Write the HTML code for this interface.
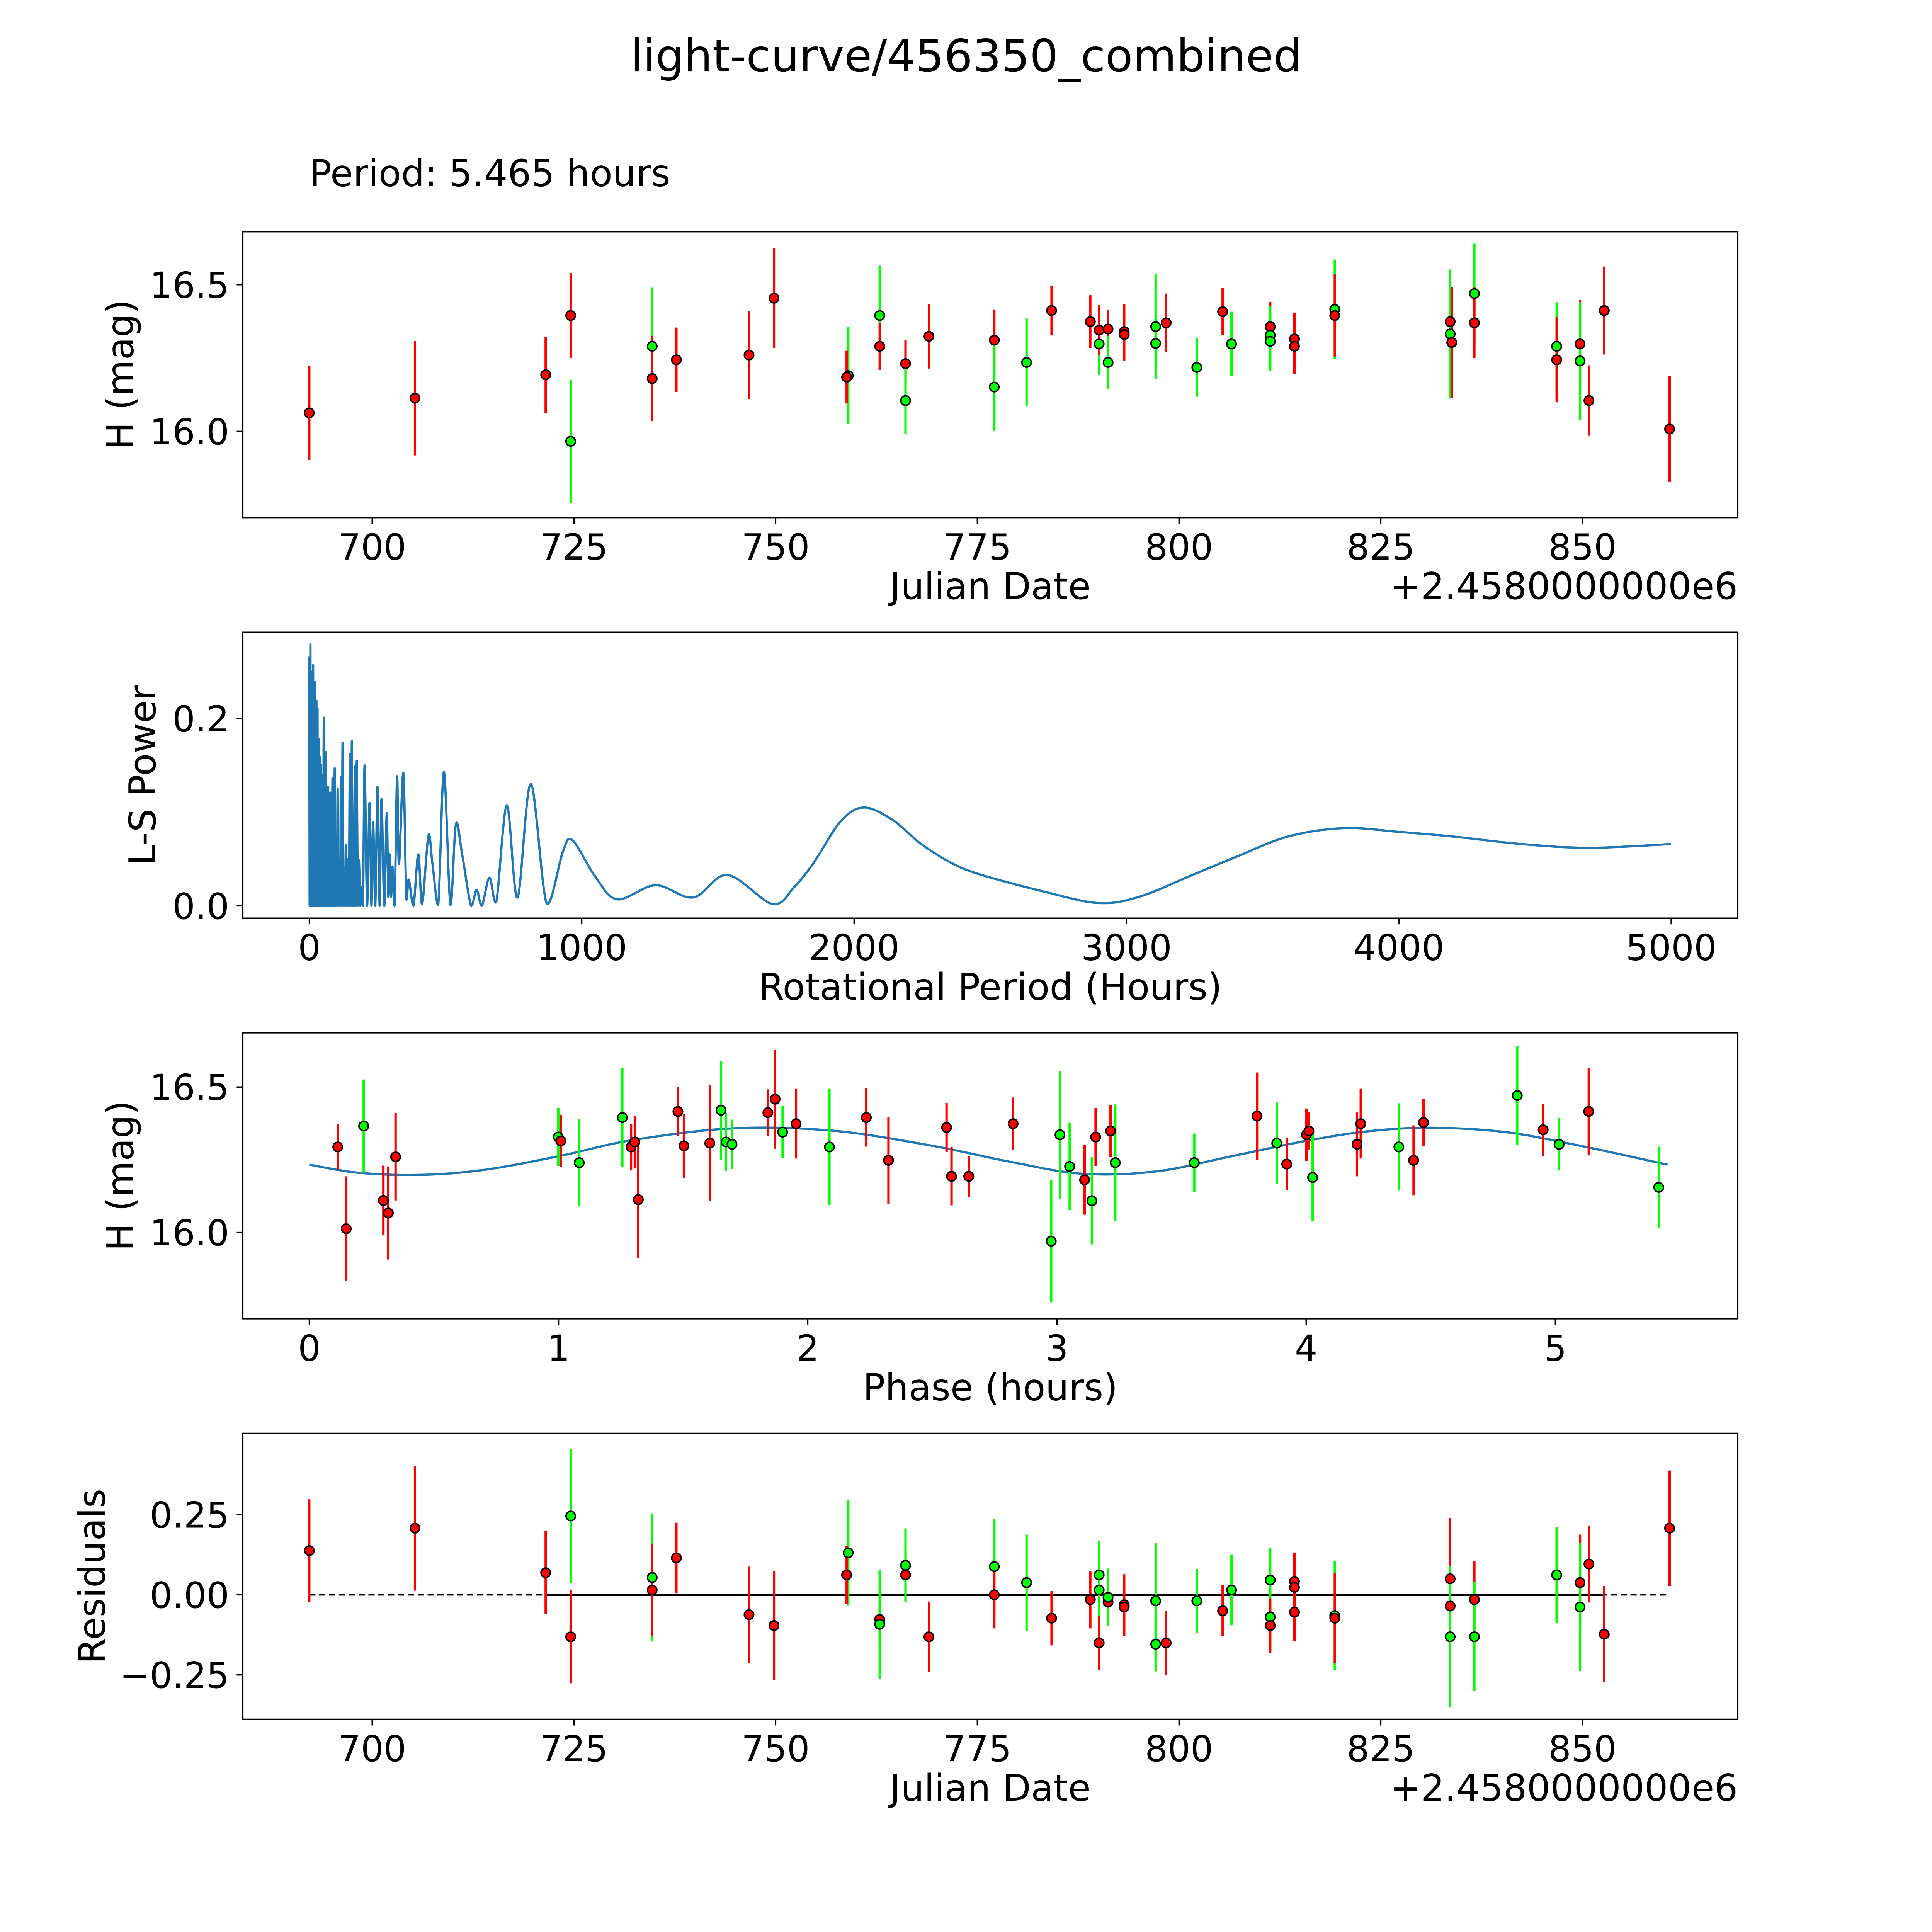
<!DOCTYPE html>
<html><head><meta charset="utf-8"><title>light-curve/456350_combined</title>
<style>html,body{margin:0;padding:0;background:#fff;overflow:hidden}svg{display:block}text{font-family:"DejaVu Sans","Liberation Sans",sans-serif;fill:#000}</style>
</head><body>
<svg id="fig" xmlns="http://www.w3.org/2000/svg" width="5400" height="5400" viewBox="0 0 1693 1693">
<rect x="0" y="0" width="1693" height="1693" fill="#fff"/>
<text x="784" y="58" font-size="36.4" text-anchor="middle">light-curve/456350_combined</text>
<text x="251" y="151" font-size="30">Period: 5.465 hours</text>
</svg>
<script>
// ---- Panel 1: light curve vs Julian Date ----
const lcDate=[692.2,705.3,721.5,724.6,724.6,734.7,734.7,737.7,746.7,749.8,759.0,758.8,762.9,762.9,766.1,766.1,769.0,777.1,777.1,781.1,784.2,789.0,790.1,790.1,791.2,791.2,793.2,793.2,797.1,797.1,798.4,802.2,805.4,806.5,811.3,811.3,811.3,814.3,814.3,819.3,819.3,833.6,833.6,833.8,836.6,836.6,846.8,846.8,849.7,849.7,850.8,852.7,860.8];
const lcMag=[16.063,16.113,16.193,16.395,15.966,16.29,16.18,16.244,16.26,16.454,16.19,16.185,16.395,16.29,16.231,16.105,16.324,16.311,16.151,16.235,16.412,16.374,16.298,16.345,16.349,16.235,16.34,16.33,16.357,16.30,16.37,16.218,16.408,16.298,16.357,16.328,16.307,16.315,16.29,16.416,16.395,16.374,16.332,16.303,16.47,16.37,16.29,16.244,16.298,16.24,16.105,16.412,16.008];
const lcErr=[.16,.195,.13,.145,.21,.2,.145,.11,.15,.17,.165,.09,.17,.08,.08,.115,.11,.105,.15,.15,.085,.09,.105,.085,.065,.09,.095,.09,.18,.085,.1,.1,.08,.11,.085,.1,.1,.09,.095,.17,.14,.12,.22,.19,.17,.12,.15,.145,.15,.2,.12,.15,.18];
const lcBand=["r","r","r","r","g","g","r","r","r","r","g","r","g","r","r","g","r","r","g","g","r","r","g","r","r","g","r","r","g","g","r","g","r","g","r","g","g","r","r","g","r","r","g","r","g","r","g","r","r","g","r","r","r"];
const jdTicks=[700,725,750,775,800,825,850];
const magTicks=[16.0,16.5];
const magTickLabels=["16.0","16.5"];

// ---- Panel 2: periodogram ----
const lsPeriod=[0,1,2,3,4,5,6,7,8,9,10,11,12,13,14,15,16,17,18,19,20,21,22,23,24,25,26,27,28,29,30,31,32,33,34,35,36,37,38,39,40,41,42,43,44,45,46,47,48,49,50,51,53,55,57,59,61,63,65,67,69,71,73,75,77,79,81,83,85,87,89,91,93,95,98,101,104,107,110,113,116,119,122,125,128,131,134,138,142,145,149,152,156,159,162,164,167,170,174,178,182,187,192,197,203,212,221,228,234,242,250,258,265,275,284,290,295,300,305,313,322,329,345,356,365,382,400,414,437,452,473,494,518,538,561,594,614,633,661,686,725,764,813,872,931,966,1048,1130,1271,1409,1535,1700,1780,1854,1950,2035,2140,2242,2350,2457,2700,2899,3050,3234,3400,3593,3800,4000,4200,4450,4700,5000];
const lsPower=[.266,0,.24,0,.279,0,.2,0,.23,0,.25,0,.19,0,.257,0,.2,0,.22,0,.17,0,.239,0,.18,0,.219,0,.15,0,.211,0,.14,0,.178,0,.12,0,.159,0,.13,0,.151,0,.1,0,.14,0,.09,0,.12,0,.201,0,.1,0,.164,0,.08,0,.127,0,.07,0,.121,0,.06,0,.136,0,.05,0,.147,0,.06,0,.125,0,.05,0,.138,0,.174,0,.04,0,.065,0,.05,0,.162,0,.176,0,.03,0,.149,0,.155,0,.049,0,.02,0,.150,0,.110,0,.089,0,.127,0,.114,0,.099,.01,.055,.01,.042,0,.138,.045,.142,.008,.028,0,.055,.002,.075,.045,.001,.143,.001,.087,.055,0,.017,0,.03,.004,.107,.009,.13,.002,.058,.07,.032,.007,.022,.009,.033,.002,.02,.047,.09,.105,.092,.067,.047,.034,.015,.003,.01,.032,.052,.074,.083,.079,.074,.066,.062,.066];
const periodTicks=[0,1000,2000,3000,4000,5000];
const powerTicks=[0.0,0.2];
const powerTickLabels=["0.0","0.2"];

// ---- Panel 3: phased light curve ----
const phPhase=[0.114,0.148,0.218,0.297,0.317,0.346,0.999,1.009,1.083,1.256,1.291,1.306,1.32,1.479,1.503,1.607,1.652,1.672,1.696,1.84,1.869,1.899,1.953,2.087,2.235,2.324,2.557,2.577,2.646,2.824,2.977,3.012,3.051,3.111,3.14,3.155,3.215,3.234,3.551,3.803,3.882,3.922,4.001,4.011,4.026,4.204,4.219,4.372,4.431,4.471,4.847,4.951,5.015,5.134,5.415];
const phMag=[16.294,16.013,16.366,16.11,16.067,16.26,16.328,16.315,16.24,16.395,16.294,16.311,16.113,16.416,16.298,16.307,16.42,16.311,16.303,16.412,16.458,16.345,16.374,16.294,16.395,16.248,16.361,16.193,16.193,16.374,15.97,16.336,16.227,16.181,16.109,16.328,16.349,16.24,16.24,16.4,16.307,16.235,16.336,16.349,16.189,16.303,16.374,16.294,16.248,16.378,16.471,16.353,16.303,16.416,16.155];
const phErr=[.08,.18,.16,.12,.16,.15,.1,.09,.15,.17,.08,.09,.2,.085,.11,.2,.17,.1,.085,.08,.17,.09,.12,.2,.1,.15,.085,.1,.07,.09,.21,.22,.15,.12,.15,.1,.09,.2,.1,.15,.14,.09,.09,.065,.15,.11,.12,.15,.12,.08,.17,.09,.09,.15,.14];
const phBand=["r","r","g","r","r","r","g","r","g","g","r","r","r","r","r","r","g","g","g","r","r","g","r","g","r","r","r","r","r","r","g","g","g","r","g","r","r","g","g","r","g","r","r","r","g","r","r","g","r","r","g","r","g","r","g"];
const modelPhase=[0,0.2,0.45,0.7,1.0,1.3,1.7,2.1,2.5,2.8,3.1,3.4,3.7,4.0,4.25,4.5,4.8,5.1,5.45];
const modelMag=[16.233,16.205,16.198,16.215,16.262,16.318,16.358,16.35,16.298,16.245,16.202,16.21,16.262,16.315,16.348,16.36,16.345,16.298,16.233];
const phaseTicks=[0,1,2,3,4,5];

// ---- Panel 4: residuals ----
const resDate=[692.2,705.3,721.5,724.6,724.6,734.7,734.7,737.7,746.7,749.8,759.0,758.8,762.9,762.9,766.1,766.1,769.0,777.1,777.1,781.1,784.2,789.0,790.1,790.1,790.1,791.2,791.2,793.2,793.2,797.1,797.1,798.4,802.2,805.4,806.5,811.3,811.3,811.3,814.3,814.3,814.3,819.3,819.3,833.6,833.6,833.6,836.6,836.6,846.8,846.8,849.7,849.7,850.8,852.7,860.8];
const resVal=[.138,.208,.069,-.131,.246,.054,.015,.115,-.062,-.096,.131,.062,-.077,-.092,.062,.092,-.131,.088,0,.038,-.073,-.015,.062,.015,-.15,-.023,-.008,-.031,-.038,-.019,-.154,-.15,-.019,-.05,.015,.046,-.069,-.096,.042,.023,-.054,-.065,-.073,.05,-.035,-.131,-.015,-.131,.062,.062,.038,-.038,.096,-.123,.208];
const resErr=[.16,.195,.13,.145,.21,.2,.145,.11,.15,.17,.165,.09,.08,.17,.08,.115,.11,.15,.105,.15,.085,.09,.105,.1,.085,.065,.09,.095,.09,.18,.085,.1,.1,.08,.11,.1,.1,.085,.09,.095,.09,.17,.14,.19,.12,.22,.12,.17,.145,.15,.15,.2,.12,.15,.18];
const resBand=["r","r","r","r","g","g","r","r","r","r","g","r","r","g","r","g","r","g","r","g","r","r","g","g","r","r","g","r","r","g","g","r","g","r","g","g","g","r","r","r","r","g","r","r","r","g","r","g","r","g","r","g","r","r","r"];
const resTicks=[-0.25,0,0.25];
const resTickLabels=["\u22120.25","0.00","0.25"];
const zeroDashedSpan=[692.2,860.8];
const zeroSolidSpan=[721.5,852.7];

const NS="http://www.w3.org/2000/svg";
const fig=document.getElementById('fig');
function mk(tag,attrs,parent){const e=document.createElementNS(NS,tag);for(const k in attrs)e.setAttribute(k,attrs[k]);(parent||fig).appendChild(e);return e;}
function lin(d0,d1,p0,p1){return v=>p0+(v-d0)*(p1-p0)/(d1-d0);}
const COL={r:"#ff0000",g:"#00ff00"};
const TF=29, LF=30;

function axesFrame(name,L,T,R,B,xs,xt,xl,ys,yt,yl,xlabel,ylabel,ylabelX,offsetText){
  const g=mk('g',{});
  
  
  xt.forEach((v,i)=>{const x=xs(v);
    const t=mk('line',{x1:x,x2:x,y1:B,y2:B+5,stroke:'#000','stroke-width':1.1},g);
    
    const tx=mk('text',{x:x,y:B+34,'font-size':TF,'text-anchor':'middle'},g);tx.textContent=xl[i];
    });
  yt.forEach((v,i)=>{const y=ys(v);
    const t=mk('line',{x1:L-5,x2:L,y1:y,y2:y,stroke:'#000','stroke-width':1.1},g);
    
    const tx=mk('text',{x:L-11,y:y+10.5,'font-size':TF,'text-anchor':'end'},g);tx.textContent=yl[i];
    });
  const xlab=mk('text',{x:(L+R)/2,y:B+66,'font-size':LF,'text-anchor':'middle'},g);xlab.textContent=xlabel;
  
  const cy=(T+B)/2;
  const ylab=mk('text',{x:ylabelX,y:cy,'font-size':LF,'text-anchor':'middle',transform:`rotate(-90 ${ylabelX} ${cy})`},g);ylab.textContent=ylabel;
  
  if(offsetText){const o=mk('text',{x:R,y:B+66,'font-size':LF,'text-anchor':'end'},g);o.textContent=offsetText;
    }
  return g;
}
function frameRect(L,T,R,B){const r=mk('rect',{x:L,y:T,width:R-L,height:B-T,fill:'none',stroke:'#000','stroke-width':1.1});
  }
function errPoints(xs,ys,X,Y,E,C,name){
  const g=mk('g',{});
  
  
  X.forEach((v,i)=>{const l=mk('line',{x1:xs(v),x2:xs(v),y1:ys(Y[i]-E[i]),y2:ys(Y[i]+E[i]),stroke:COL[C[i]],'stroke-width':1.9},g);
    });
  X.forEach((v,i)=>{const c=mk('circle',{cx:xs(v),cy:ys(Y[i]),r:3.8,fill:COL[C[i]],stroke:'#000','stroke-width':1.2},g);
    });
}
function smoothPath(P,yMax){
  let d='M'+P[0][0].toFixed(2)+','+P[0][1].toFixed(2);
  for(let i=0;i<P.length-1;i++){const p0=P[Math.max(0,i-1)],p1=P[i],p2=P[i+1],p3=P[Math.min(P.length-1,i+2)];
    let c1y=p1[1]+(p2[1]-p0[1])/6, c2y=p2[1]-(p3[1]-p1[1])/6;
    if(yMax!==undefined){c1y=Math.min(c1y,yMax);c2y=Math.min(c2y,yMax);}
    d+=` C${(p1[0]+(p2[0]-p0[0])/6).toFixed(2)},${c1y.toFixed(2)} ${(p2[0]-(p3[0]-p1[0])/6).toFixed(2)},${c2y.toFixed(2)} ${p2[0].toFixed(2)},${p2[1].toFixed(2)}`;}
  return d;
}
const jdLabels=jdTicks.map(String);

// Panel 1
{const L=197,R=1410,T=188,B=420;
 const xs=lin(700,850,302,1284), ys=lin(16.0,16.5,350,231);
 axesFrame('light-curve-axes',L,T,R,B,xs,jdTicks,jdLabels,ys,magTicks,magTickLabels,'Julian Date','H (mag)',108,'+2.4580000000e6');
 errPoints(xs,ys,lcDate,lcMag,lcErr,lcBand,'light-curve-points');
 frameRect(L,T,R,B);}
// Panel 2
{const L=197,R=1410,T=513,B=745;
 const xs=lin(0,5000,251,1356), ys=lin(0,0.2,735,583);
 axesFrame('periodogram-axes',L,T,R,B,xs,periodTicks,periodTicks.map(String),ys,powerTicks,powerTickLabels,'Rotational Period (Hours)','L-S Power',126);
 const P=lsPeriod.map((p,i)=>[xs(p),ys(lsPower[i])]);
 const pl=mk('path',{d:smoothPath(P,ys(0)),fill:'none',stroke:'#1f77b4','stroke-width':1.8,'stroke-linejoin':'round'});
 
 frameRect(L,T,R,B);}
// Panel 3
{const L=197,R=1410,T=838,B=1070;
 const xs=lin(0,5,251,1262), ys=lin(16.0,16.5,1000,882);
 axesFrame('phase-axes',L,T,R,B,xs,phaseTicks,phaseTicks.map(String),ys,magTicks,magTickLabels,'Phase (hours)','H (mag)',108);
 const P=modelPhase.map((p,i)=>[xs(p),ys(modelMag[i])]);
 const mp=mk('path',{d:smoothPath(P),fill:'none',stroke:'#1f77b4','stroke-width':1.8});
 
 errPoints(xs,ys,phPhase,phMag,phErr,phBand,'phase-points');
 frameRect(L,T,R,B);}
// Panel 4
{const L=197,R=1410,T=1163,B=1395;
 const xs=lin(700,850,302,1284), ys=lin(0,0.25,1294,1229);
 axesFrame('residuals-axes',L,T,R,B,xs,jdTicks,jdLabels,ys,resTicks,resTickLabels,'Julian Date','Residuals',85,'+2.4580000000e6');
 const dl=mk('line',{x1:xs(zeroDashedSpan[0]),x2:xs(zeroDashedSpan[1]),y1:ys(0),y2:ys(0),stroke:'#000','stroke-width':1.3,'stroke-dasharray':'5,3'});
 
 const sl=mk('line',{x1:xs(zeroSolidSpan[0]),x2:xs(zeroSolidSpan[1]),y1:ys(0),y2:ys(0),stroke:'#000','stroke-width':1.8});
 
 errPoints(xs,ys,resDate,resVal,resErr,resBand,'residual-points');
 frameRect(L,T,R,B);}
</script>
</body></html>
